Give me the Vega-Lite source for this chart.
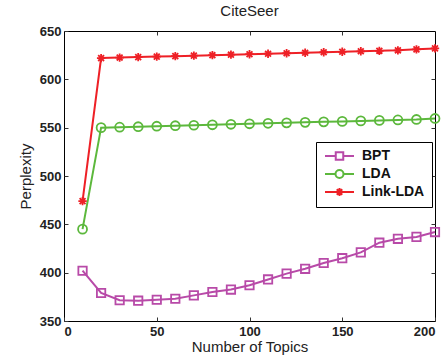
{
  "$schema": "https://vega.github.io/schema/vega-lite/v6.json",
  "width": 371,
  "height": 290,
  "autosize": {"type": "none"},
  "padding": {"left": 64, "top": 31, "right": 13, "bottom": 39},
  "background": "white",
  "title": {"text": "CiteSeer", "font": "Liberation Sans", "fontSize": 15, "fontWeight": "normal", "color": "#222", "offset": 6},
  "config": {
    "view": {"stroke": "black", "strokeWidth": 1},
    "axis": {"grid": false, "domain": false, "tickColor": "#333", "labelFont": "Liberation Sans", "labelFontWeight": "bold", "labelFontSize": 13, "labelColor": "#222", "titleFont": "Liberation Sans", "titleFontWeight": "normal", "titleFontSize": 15, "titleColor": "#222"}
  },
  "data": {"values": [
    {"t":10,"s":"BPT","v":402},{"t":20,"s":"BPT","v":379},{"t":30,"s":"BPT","v":371.5},{"t":40,"s":"BPT","v":371},{"t":50,"s":"BPT","v":372},{"t":60,"s":"BPT","v":373},{"t":70,"s":"BPT","v":376.5},{"t":80,"s":"BPT","v":380},{"t":90,"s":"BPT","v":382.5},{"t":100,"s":"BPT","v":387},{"t":110,"s":"BPT","v":393},{"t":120,"s":"BPT","v":399},{"t":130,"s":"BPT","v":404},{"t":140,"s":"BPT","v":410},{"t":150,"s":"BPT","v":415},{"t":160,"s":"BPT","v":421},{"t":170,"s":"BPT","v":431},{"t":180,"s":"BPT","v":435},{"t":190,"s":"BPT","v":437},{"t":200,"s":"BPT","v":442},
    {"t":10,"s":"LDA","v":445},{"t":20,"s":"LDA","v":550},{"t":30,"s":"LDA","v":550.5},{"t":40,"s":"LDA","v":551},{"t":50,"s":"LDA","v":551.5},{"t":60,"s":"LDA","v":552},{"t":70,"s":"LDA","v":552.5},{"t":80,"s":"LDA","v":553},{"t":90,"s":"LDA","v":553.5},{"t":100,"s":"LDA","v":554},{"t":110,"s":"LDA","v":554.5},{"t":120,"s":"LDA","v":555},{"t":130,"s":"LDA","v":555.5},{"t":140,"s":"LDA","v":556},{"t":150,"s":"LDA","v":556.5},{"t":160,"s":"LDA","v":557},{"t":170,"s":"LDA","v":557.5},{"t":180,"s":"LDA","v":558},{"t":190,"s":"LDA","v":558.5},{"t":200,"s":"LDA","v":559.5},
    {"t":10,"s":"Link-LDA","v":474},{"t":20,"s":"Link-LDA","v":622},{"t":30,"s":"Link-LDA","v":622.5},{"t":40,"s":"Link-LDA","v":623},{"t":50,"s":"Link-LDA","v":623.5},{"t":60,"s":"Link-LDA","v":624},{"t":70,"s":"Link-LDA","v":624.5},{"t":80,"s":"Link-LDA","v":625},{"t":90,"s":"Link-LDA","v":625.5},{"t":100,"s":"Link-LDA","v":626},{"t":110,"s":"Link-LDA","v":626.5},{"t":120,"s":"Link-LDA","v":627},{"t":130,"s":"Link-LDA","v":627.5},{"t":140,"s":"Link-LDA","v":628},{"t":150,"s":"Link-LDA","v":628.5},{"t":160,"s":"Link-LDA","v":629},{"t":170,"s":"Link-LDA","v":629.5},{"t":180,"s":"Link-LDA","v":630},{"t":190,"s":"Link-LDA","v":631},{"t":200,"s":"Link-LDA","v":632}
  ]},
  "layer": [
    {
      "mark": {"type": "line", "strokeWidth": 2},
      "encoding": {
        "x": {"field": "t", "type": "quantitative", "scale": {"domain": [0, 200], "nice": false}, "axis": {"title": "Number of Topics", "values": [0, 50, 100, 150, 200], "tickSize": -4, "labelPadding": 8, "titlePadding": 1}},
        "y": {"field": "v", "type": "quantitative", "scale": {"domain": [350, 650], "nice": false, "zero": false}, "axis": {"title": "Perplexity", "values": [350, 400, 450, 500, 550, 600, 650], "tickSize": -4, "labelPadding": 7, "titlePadding": 6}},
        "color": {"field": "s", "type": "nominal", "scale": {"domain": ["BPT", "LDA", "Link-LDA"], "range": ["#B84AA8", "#5CB83C", "#EE2026"]}, "legend": {
          "title": null, "orient": "none", "legendX": 252, "legendY": 111,
          "padding": 7, "strokeColor": "black", "fillColor": "white", "cornerRadius": 0,
          "symbolSize": 100, "symbolStrokeWidth": 2, "labelOffset": 25, "rowPadding": 2,
          "labelFont": "Liberation Sans", "labelFontWeight": "bold", "labelFontSize": 14, "labelColor": "#111",
          "encode": {"symbols": {"update": {
            "shape": {"signal": "datum.value == 'BPT' ? 'M-1,0H1.15M2.65,0H4.8M1.15,-0.75H2.65V0.75H1.15Z' : datum.value == 'LDA' ? 'M-1,0H1.1M2.7,0H4.8M2.7,0A0.8,0.8 0 1 0 1.1,0A0.8,0.8 0 1 0 2.7,0' : 'M-1,0H4.8M1.9,-0.8V0.8M1.35,-0.55L2.45,0.55M1.35,0.55L2.45,-0.55'"},
            "fill": {"value": "transparent"},
            "stroke": {"scale": "color", "field": "value"},
            "strokeWidth": {"value": 2}
          }}}
        }}
      }
    },
    {
      "transform": [{"filter": "datum.s == 'BPT'"}],
      "mark": {"type": "point", "shape": "square", "filled": false, "strokeWidth": 1.8, "size": 70, "opacity": 1},
      "encoding": {
        "x": {"field": "t", "type": "quantitative", "axis": {"orient": "top", "values": [50, 100, 150], "labels": false, "title": null, "tickSize": -4}},
        "y": {"field": "v", "type": "quantitative", "axis": {"orient": "right", "values": [400, 450, 500, 550, 600], "labels": false, "title": null, "tickSize": -4}},
        "color": {"field": "s", "type": "nominal"}
      }
    },
    {
      "transform": [{"filter": "datum.s == 'LDA'"}],
      "mark": {"type": "point", "shape": "circle", "filled": false, "strokeWidth": 1.8, "size": 80, "opacity": 1},
      "encoding": {
        "x": {"field": "t", "type": "quantitative", "axis": null},
        "y": {"field": "v", "type": "quantitative", "axis": null},
        "color": {"field": "s", "type": "nominal"}
      }
    },
    {
      "transform": [{"filter": "datum.s == 'Link-LDA'"}],
      "mark": {"type": "point", "shape": "M-1,0H1M0,-1V1M-0.7,-0.7L0.7,0.7M-0.7,0.7L0.7,-0.7", "filled": false, "strokeWidth": 1.8, "size": 70, "opacity": 1},
      "encoding": {
        "x": {"field": "t", "type": "quantitative", "axis": null},
        "y": {"field": "v", "type": "quantitative", "axis": null},
        "color": {"field": "s", "type": "nominal"}
      }
    }
  ],
  "resolve": {"axis": {"x": "independent", "y": "independent"}}
}
